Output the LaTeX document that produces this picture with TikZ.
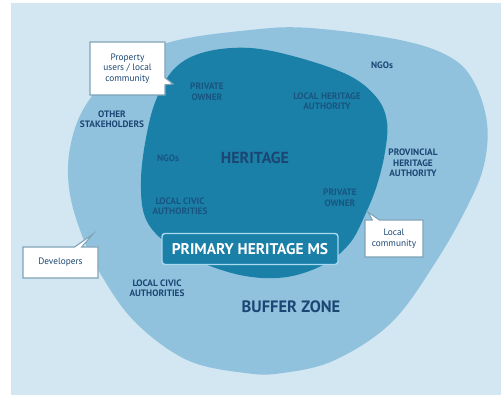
\documentclass[tikz,border=0pt]{standalone}
\usepackage{fontspec}
\setmainfont{PT Sans}
\usetikzlibrary{shapes.callouts}
\definecolor{bgblue}{HTML}{D3E7F3}
\definecolor{midblue}{HTML}{90C2DE}
\definecolor{darkblue}{HTML}{1A80A8}
\definecolor{navy}{HTML}{1B4673}
\definecolor{innertxt}{HTML}{185580}
\definecolor{boxline}{HTML}{7FA3B8}
\definecolor{msline}{HTML}{A9D9EC}
\tikzset{
  outerlbl/.style={font=\fontsize{9.3}{10.5}\selectfont\bfseries, text=navy, align=center, inner sep=0pt},
  innerlbl/.style={font=\fontsize{9.3}{10.5}\selectfont\bfseries, text=innertxt, align=center, inner sep=0pt},
  biglbl/.style={font=\fontsize{16}{17}\selectfont\bfseries, text=navy, inner sep=0pt},
  callbox/.style={rectangle callout, fill=white, draw=boxline, line width=1.1pt, text=navy,
    font=\fontsize{9.3}{10.5}\selectfont, align=center, inner sep=0pt},
}
\begin{document}
\begin{tikzpicture}[x=1pt,y=-1pt]
\useasboundingbox (0,0) rectangle (501,395);
\fill[white] (0,0) rectangle (501,395);
\fill[bgblue] (11,3) rectangle (501,395);
% outer blob (buffer zone)
\fill[midblue] plot[smooth cycle, tension=0.6] coordinates {
 (250,30) (310,28) (400,40) (450,57) (474,82) (487,123) (484,165) (468,205)
 (437,260) (392,322) (335,360) (283,373) (245,373) (187,360) (135,322)
 (100,273) (80,230) (69,188) (70,148) (84,108) (115,72) (167,43)};
% inner blob (heritage)
\fill[darkblue] plot[smooth cycle, tension=0.6] coordinates {
 (250,48) (300,58) (350,76) (377,98) (387,122) (385,152) (377,185)
 (365,215) (350,243) (325,264) (287,277) (245,276) (200,262) (165,242)
 (145,217) (141,180) (146,138) (156,100) (175,68) (205,52)};
% primary heritage MS box
\node[draw=msline, fill=darkblue, line width=1.4pt, rounded corners=3pt,
  minimum width=176pt, minimum height=31pt, inner sep=0pt,
  font=\fontsize{15.5}{16}\selectfont\bfseries, text=white] (ms) at (250,249) {PRIMARY HERITAGE MS};
% labels
\node[biglbl] (her) at (255,158) {HERITAGE};
\node[biglbl, font=\fontsize{16.5}{17}\selectfont\bfseries] (buf) at (291,307) {BUFFER ZONE};
\node[outerlbl] (oth) at (112,119) {OTHER\\STAKEHOLDERS};
\node[outerlbl] (ngo1) at (382,65) {NGOs};
\node[outerlbl] (prov) at (413,163) {PROVINCIAL\\HERITAGE\\AUTHORITY};
\node[outerlbl] (lca1) at (157,288) {LOCAL CIVIC\\AUTHORITIES};
\node[innerlbl] (po1) at (207,92) {PRIVATE\\OWNER};
\node[innerlbl] (lha) at (327,101) {LOCAL HERITAGE\\AUTHORITY};
\node[innerlbl] (ngo2) at (168,158) {NGOs};
\node[innerlbl] (lca2) at (180,206) {LOCAL CIVIC\\AUTHORITIES};
\node[innerlbl] (po2) at (340,198) {PRIVATE\\OWNER};
% callouts
\node[callbox, minimum width=75pt, minimum height=53pt, callout absolute pointer={(173,84)}]
  (pu) at (127.5,68.5) {Property\\users / local\\community};
\node[callbox, minimum width=75pt, minimum height=31pt, callout absolute pointer={(93,234)}]
  (dev) at (60.5,262.5) {Developers};
\node[callbox, minimum width=58pt, minimum height=37pt, callout absolute pointer={(368,212)}]
  (lc) at (394,238.5) {Local\\community};
\end{tikzpicture}
\end{document}
